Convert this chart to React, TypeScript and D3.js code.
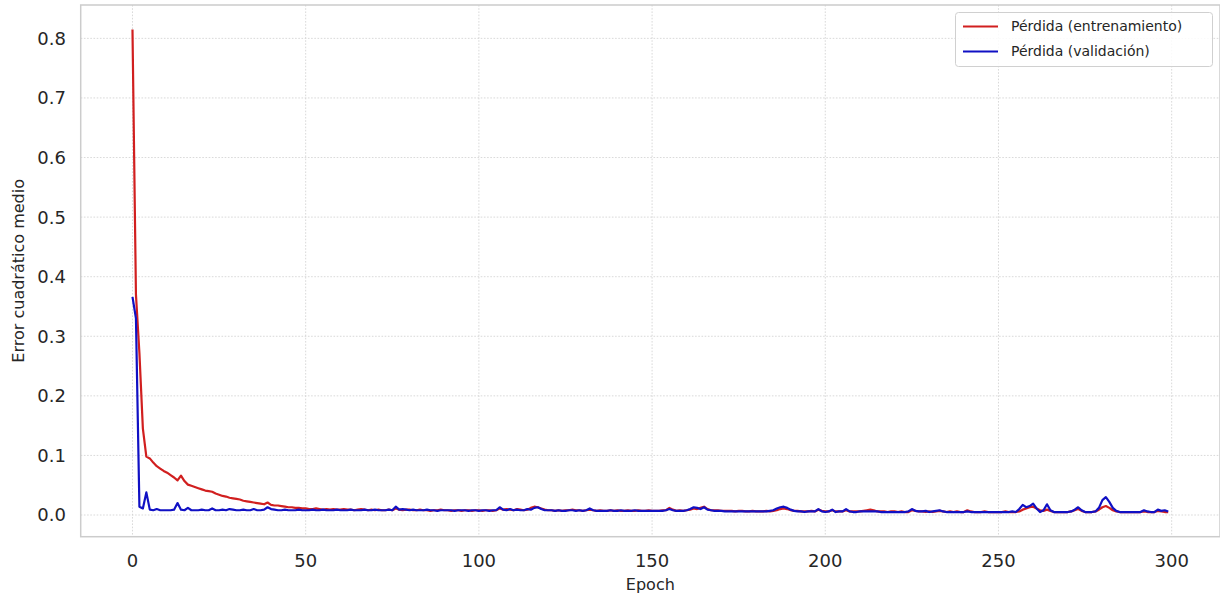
import React from "react";
import * as d3 from "d3";

const xTicks = [0, 50, 100, 150, 200, 250, 300];
const yTicks = [0.0, 0.1, 0.2, 0.3, 0.4, 0.5, 0.6, 0.7, 0.8];
const seriesNames = ["Pérdida (entrenamiento)", "Pérdida (validación)"];

const trainLoss = [
  0.815, 0.370, 0.272, 0.145, 0.098, 0.095, 0.088, 0.082, 0.078, 0.074,
  0.071, 0.067, 0.063, 0.058, 0.066, 0.057, 0.051, 0.049, 0.047, 0.045,
  0.043, 0.041, 0.040, 0.039, 0.036, 0.034, 0.032, 0.031, 0.029, 0.028,
  0.027, 0.026, 0.024, 0.023, 0.022, 0.021, 0.020, 0.019, 0.018, 0.021,
  0.017, 0.016, 0.016, 0.015, 0.014, 0.013, 0.013, 0.012, 0.012, 0.011,
  0.011, 0.010, 0.010, 0.011, 0.010, 0.009, 0.010, 0.009, 0.010, 0.009,
  0.009, 0.010, 0.009, 0.009, 0.008, 0.009, 0.010, 0.009, 0.008, 0.009,
  0.008, 0.009, 0.008, 0.008, 0.009, 0.008, 0.011, 0.009, 0.008, 0.009,
  0.009, 0.008, 0.008, 0.009, 0.008, 0.008, 0.007, 0.008, 0.008, 0.009,
  0.008, 0.008, 0.007, 0.008, 0.008, 0.007, 0.008, 0.008, 0.007, 0.008,
  0.008, 0.007, 0.008, 0.008, 0.007, 0.008, 0.011, 0.009, 0.010, 0.009,
  0.008, 0.010, 0.009, 0.008, 0.009, 0.012, 0.014, 0.013, 0.011, 0.009,
  0.008, 0.008, 0.007, 0.008, 0.007, 0.008, 0.008, 0.009, 0.008, 0.008,
  0.007, 0.008, 0.009, 0.008, 0.007, 0.008, 0.007, 0.007, 0.008, 0.007,
  0.008, 0.007, 0.007, 0.008, 0.007, 0.007, 0.008, 0.007, 0.007, 0.008,
  0.007, 0.007, 0.007, 0.008, 0.008, 0.012, 0.009, 0.007, 0.008, 0.007,
  0.008, 0.009, 0.011, 0.010, 0.012, 0.014, 0.010, 0.008, 0.008, 0.008,
  0.007, 0.007, 0.007, 0.007, 0.006, 0.007, 0.007, 0.006, 0.006, 0.007,
  0.006, 0.006, 0.006, 0.007, 0.006, 0.007, 0.008, 0.010, 0.011, 0.010,
  0.008, 0.007, 0.007, 0.006, 0.006, 0.006, 0.007, 0.006, 0.009, 0.007,
  0.006, 0.006, 0.008, 0.006, 0.006, 0.006, 0.008, 0.006, 0.006, 0.006,
  0.006, 0.007, 0.008, 0.009, 0.008, 0.006, 0.006, 0.006, 0.005, 0.006,
  0.006, 0.005, 0.006, 0.005, 0.005, 0.008, 0.007, 0.006, 0.006, 0.005,
  0.006, 0.005, 0.006, 0.007, 0.006, 0.005, 0.006, 0.005, 0.006, 0.005,
  0.005, 0.008, 0.006, 0.005, 0.005, 0.005, 0.006, 0.005, 0.005, 0.005,
  0.005, 0.005, 0.006, 0.005, 0.005, 0.005, 0.006, 0.009, 0.011, 0.013,
  0.014, 0.011, 0.008, 0.007, 0.009, 0.007, 0.005, 0.005, 0.005, 0.005,
  0.005, 0.006, 0.008, 0.010, 0.007, 0.005, 0.005, 0.005, 0.006, 0.009,
  0.013, 0.015, 0.012, 0.008, 0.006, 0.005, 0.005, 0.005, 0.005, 0.005,
  0.005, 0.005, 0.006, 0.005, 0.005, 0.005, 0.007, 0.006, 0.005, 0.005,
];

const valLoss = [
  0.366, 0.330, 0.014, 0.011, 0.038, 0.009, 0.008, 0.010, 0.008, 0.008,
  0.008, 0.008, 0.009, 0.020, 0.009, 0.008, 0.012, 0.008, 0.008, 0.008,
  0.009, 0.008, 0.008, 0.011, 0.008, 0.008, 0.009, 0.008, 0.010, 0.009,
  0.008, 0.008, 0.009, 0.008, 0.008, 0.010, 0.008, 0.008, 0.009, 0.013,
  0.010, 0.009, 0.008, 0.008, 0.009, 0.008, 0.008, 0.008, 0.009, 0.008,
  0.008, 0.008, 0.009, 0.008, 0.008, 0.009, 0.008, 0.008, 0.008, 0.009,
  0.008, 0.008, 0.008, 0.009, 0.008, 0.008, 0.008, 0.009, 0.008, 0.008,
  0.009, 0.008, 0.008, 0.008, 0.009, 0.008, 0.014, 0.009, 0.010, 0.009,
  0.008, 0.009, 0.008, 0.008, 0.008, 0.009, 0.008, 0.008, 0.007, 0.008,
  0.008, 0.008, 0.008, 0.007, 0.008, 0.008, 0.008, 0.007, 0.008, 0.008,
  0.007, 0.008, 0.008, 0.007, 0.008, 0.008, 0.013, 0.009, 0.008, 0.010,
  0.008, 0.009, 0.008, 0.008, 0.010, 0.009, 0.012, 0.013, 0.010, 0.008,
  0.008, 0.008, 0.007, 0.008, 0.007, 0.007, 0.008, 0.008, 0.007, 0.008,
  0.007, 0.008, 0.011, 0.008, 0.007, 0.007, 0.007, 0.007, 0.008, 0.007,
  0.007, 0.008, 0.007, 0.007, 0.007, 0.008, 0.007, 0.007, 0.007, 0.007,
  0.007, 0.007, 0.007, 0.007, 0.008, 0.010, 0.008, 0.007, 0.007, 0.007,
  0.008, 0.010, 0.013, 0.012, 0.010, 0.013, 0.009, 0.008, 0.007, 0.007,
  0.007, 0.006, 0.006, 0.006, 0.006, 0.006, 0.006, 0.006, 0.006, 0.006,
  0.006, 0.006, 0.006, 0.006, 0.007, 0.008, 0.011, 0.013, 0.014, 0.012,
  0.009, 0.007, 0.006, 0.006, 0.005, 0.006, 0.006, 0.006, 0.010, 0.006,
  0.005, 0.006, 0.009, 0.005, 0.006, 0.006, 0.010, 0.006, 0.005, 0.005,
  0.006, 0.006, 0.006, 0.006, 0.006, 0.006, 0.005, 0.005, 0.005, 0.005,
  0.005, 0.005, 0.005, 0.005, 0.006, 0.010, 0.007, 0.006, 0.006, 0.007,
  0.005, 0.006, 0.007, 0.008, 0.006, 0.005, 0.005, 0.005, 0.005, 0.005,
  0.005, 0.006, 0.005, 0.005, 0.005, 0.005, 0.005, 0.005, 0.005, 0.005,
  0.005, 0.005, 0.005, 0.005, 0.006, 0.005, 0.010, 0.017, 0.013, 0.015,
  0.019, 0.011, 0.005, 0.008, 0.018, 0.008, 0.005, 0.005, 0.005, 0.005,
  0.005, 0.006, 0.009, 0.013, 0.008, 0.005, 0.005, 0.005, 0.006, 0.012,
  0.025, 0.030, 0.022, 0.012, 0.007, 0.005, 0.005, 0.005, 0.005, 0.005,
  0.005, 0.005, 0.008, 0.006, 0.005, 0.005, 0.009, 0.007, 0.008, 0.006,
];

const W = 1220;
const H = 599;
const plot = { left: 80.7, right: 1220, top: 5, bottom: 536.7 };
const FONT = "'DejaVu Sans', sans-serif";
const TEXT = "#262626";
const RED = "#d11f1f";
const BLUE = "#1010c4";

export default function App() {
  const x = d3.scaleLinear().domain([-14.95, 313.95]).range([plot.left, plot.right]);
  const y = d3.scaleLinear().domain([-0.0364, 0.856]).range([plot.bottom, plot.top]);
  const line = d3
    .line<number>()
    .x((_, i) => x(i))
    .y((d) => y(d));
  const fmt = d3.format(".1f");

  return (
    <svg
      width={W}
      height={H}
      style={{ position: "absolute", left: 0, top: 0, background: "#fff" }}
    >
      <rect x={0} y={0} width={W} height={H} fill="#fff" />
      <defs>
        <clipPath id="plotclip">
          <rect x={plot.left} y={plot.top} width={plot.right - plot.left} height={plot.bottom - plot.top} />
        </clipPath>
      </defs>
      {/* grid */}
      {yTicks.map((t) => (
        <line
          key={"gy" + t}
          x1={plot.left}
          x2={plot.right}
          y1={y(t)}
          y2={y(t)}
          stroke="#cfcfcf"
          strokeWidth={0.8}
          strokeDasharray="1.6,1.6"
        />
      ))}
      {xTicks.map((t) => (
        <line
          key={"gx" + t}
          x1={x(t)}
          x2={x(t)}
          y1={plot.top}
          y2={plot.bottom}
          stroke="#cfcfcf"
          strokeWidth={0.8}
          strokeDasharray="1.6,1.6"
        />
      ))}
      {/* lines */}
      <g clipPath="url(#plotclip)">
        <path d={line(trainLoss) || ""} fill="none" stroke={RED} strokeWidth={2.2} strokeLinejoin="round" />
        <path d={line(valLoss) || ""} fill="none" stroke={BLUE} strokeWidth={2.2} strokeLinejoin="round" />
      </g>
      {/* frame */}
      <rect
        x={plot.left}
        y={plot.top}
        width={plot.right - plot.left}
        height={plot.bottom - plot.top}
        fill="none"
        stroke="#cccccc"
        strokeWidth={1.5}
      />
      {/* tick labels */}
      {yTicks.map((t) => (
        <text
          key={"ty" + t}
          x={66}
          y={y(t)}
          dy="0.36em"
          textAnchor="end"
          fontFamily={FONT}
          fontSize={18}
          fill={TEXT}
        >
          {fmt(t)}
        </text>
      ))}
      {xTicks.map((t) => (
        <text
          key={"tx" + t}
          x={x(t)}
          y={567}
          textAnchor="middle"
          fontFamily={FONT}
          fontSize={18}
          fill={TEXT}
        >
          {t}
        </text>
      ))}
      {/* axis titles */}
      <text
        x={(plot.left + plot.right) / 2}
        y={590}
        textAnchor="middle"
        fontFamily={FONT}
        fontSize={16}
        fill={TEXT}
      >
        Epoch
      </text>
      <text
        transform={`translate(24, ${(plot.top + plot.bottom) / 2}) rotate(-90)`}
        textAnchor="middle"
        fontFamily={FONT}
        fontSize={16}
        fill={TEXT}
      >
        Error cuadrático medio
      </text>
      {/* legend */}
      <g>
        <rect x={955.5} y={12.5} width={257} height={54} rx={3} fill="#fff" fillOpacity={0.85} stroke="#d0d0d0" strokeWidth={1} />
        {[RED, BLUE].map((c, i) => (
          <g key={"lg" + i}>
            <line x1={963} x2={998} y1={26.5 + i * 25} y2={26.5 + i * 25} stroke={c} strokeWidth={2.2} />
            <text x={1011} y={26.5 + i * 25} dy="0.35em" fontFamily={FONT} fontSize={14} fill={TEXT}>
              {seriesNames[i]}
            </text>
          </g>
        ))}
      </g>
    </svg>
  );
}
